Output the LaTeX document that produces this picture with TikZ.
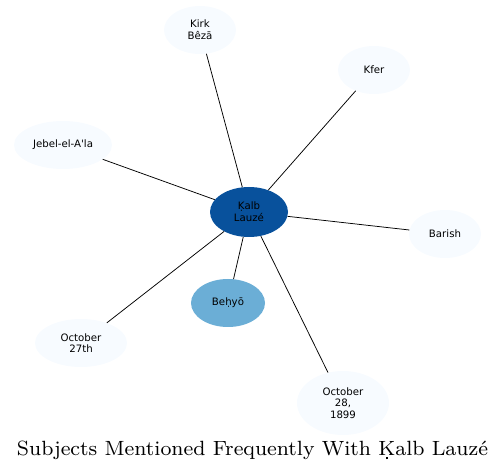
\documentclass[tikz,border=0pt]{standalone}
\usepackage{fontspec}
\usepackage{graphicx}
\newfontfamily\nodefont{DejaVu Sans}
\usetikzlibrary{shapes.geometric}
\definecolor{dark}{HTML}{08519C}
\definecolor{mid}{HTML}{6BAED6}
\definecolor{light}{HTML}{F7FBFF}
\newcommand\dotK{\leavevmode\hbox{\ooalign{K\cr\hidewidth\raisebox{-1.7pt}{\rule{0.85pt}{0.85pt}}\hidewidth\cr}}}
\tikzset{
  bub/.style={ellipse, fill=light, draw=none, inner sep=0pt, font=\nodefont\fontsize{10.2}{11.7}\selectfont, align=center},
  edge/.style={draw=black, line width=0.75pt}
}
\begin{document}
\begin{tikzpicture}[x=1pt,y=-1pt]
\useasboundingbox (0,0) rectangle (496,473);
\node[bub, minimum width=78pt, minimum height=50pt, fill=dark] (c) at (249,212) {Ḳalb\\Lauzé};
\node[bub, minimum width=72pt, minimum height=48pt] (k) at (200,30) {Kirk\\Bêzā};
\node[bub, minimum width=72pt, minimum height=48pt] (f) at (374,70) {Kfer};
\node[bub, minimum width=98pt, minimum height=48pt] (j) at (63,145) {Jebel-el-A'la};
\node[bub, minimum width=72pt, minimum height=48pt] (b) at (445,234) {Barish};
\node[bub, minimum width=74pt, minimum height=48pt, fill=mid] (h) at (228,303) {Beḥyō};
\node[bub, minimum width=92pt, minimum height=48pt] (o7) at (81,343) {October\\27th};
\node[bub, minimum width=92pt, minimum height=64pt] (o8) at (343,403) {October\\28,\\1899};
\draw[edge] (c) -- (k);
\draw[edge] (c) -- (f);
\draw[edge] (c) -- (j);
\draw[edge] (c) -- (b);
\draw[edge] (c) -- (h);
\draw[edge] (c) -- (o7);
\draw[edge] (c) -- (o8);
\node[anchor=base, inner sep=0pt] (t) at (252.5,455) {\resizebox{471pt}{!}{\fontsize{8}{9}\selectfont Subjects Mentioned Frequently With \dotK alb Lauzé}};
\end{tikzpicture}
\end{document}
